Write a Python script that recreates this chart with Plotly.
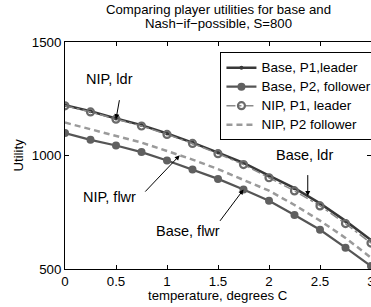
import numpy as np
import plotly.graph_objects as go

# ---- data ----
temps = [0, 0.25, 0.5, 0.75, 1.0, 1.25, 1.5, 1.75, 2.0, 2.25, 2.5, 2.75, 3.0]
base_p1_leader = [1221, 1195, 1163, 1134, 1097, 1057, 1013, 967, 911, 856, 789, 712, 628]
base_p2_follower = [1099, 1069, 1044, 1015, 978, 938, 897, 850, 801, 738, 673, 594, 513]
nip_p1_leader = [1219, 1192, 1160, 1130, 1093, 1053, 1008, 960, 902, 844, 778, 700, 614]
nip_p2_follower = [1145, 1115, 1087, 1057, 1020, 982, 940, 893, 845, 782, 713, 637, 550]

series_names = ["Base, P1,leader", "Base, P2, follower", "NIP, P1, leader", "NIP, P2 follower"]

x_ticks = [0, 0.5, 1, 1.5, 2, 2.5, 3]
x_tick_labels = ["0", "0.5", "1", "1.5", "2", "2.5", "3"]
y_ticks = [500, 1000, 1500]
y_tick_labels = ["500", "1000", "1500"]

title_lines = ["Comparing player utilities for base and", "Nash\u2212if\u2212possible, S=800"]
x_title = "temperature, degrees C"
y_title = "Utility"

FONT = "Liberation Sans, Arial, Helvetica, sans-serif"

def lname(s):
    return '<span style="font-size:13.5px">' + s + '</span>'

fig = go.Figure()
fig.add_trace(go.Scatter(
    x=temps, y=base_p1_leader, name=lname(series_names[0]), mode="lines+markers",
    line=dict(color="#383838", width=2.5),
    marker=dict(symbol="circle", size=4, color="#383838")))
fig.add_trace(go.Scatter(
    x=temps, y=base_p2_follower, name=lname(series_names[1]), mode="lines+markers",
    line=dict(color="#555555", width=2.2),
    marker=dict(symbol="circle", size=8, color="#606060")))
fig.add_trace(go.Scatter(
    x=temps, y=nip_p1_leader, name=lname(series_names[2]), mode="lines+markers",
    line=dict(color="#8a8a8a", width=1.5, dash="dashdot"),
    marker=dict(symbol="circle-open", size=7, color="#6a6a6a", line=dict(width=2.2, color="#6a6a6a"))))
fig.add_trace(go.Scatter(
    x=temps, y=nip_p2_follower, name=lname(series_names[3]), mode="lines",
    line=dict(color="#9a9a9a", width=2.5, dash="6px,4px")))

# ---- annotations (arrow tips computed from the data) ----
def tip(xv, series):
    return xv, float(np.interp(xv, temps, series))

notes = [
    # text, tip x, series, arrow tail offset (px), text offset (px)
    ("NIP, ldr", 0.5, nip_p1_leader, (5, -28), (-7, 40)),
    ("NIP, flwr", 1.125, nip_p2_follower, (-38, 40), (-70, -42)),
    ("Base, flwr", 1.75, base_p2_follower, (-27, 36), (-56, -41)),
    ("Base, ldr", 2.38, base_p1_leader, (0, -30), (-3, 41)),
]
for text, xv, series, (ax, ay), (dx, dy) in notes:
    tx, ty = tip(xv, series)
    fig.add_annotation(x=tx, y=ty, xref="x", yref="y", text=" ", showarrow=True,
                       ax=ax, ay=ay, axref="pixel", ayref="pixel",
                       arrowhead=2, arrowsize=1, arrowwidth=1, arrowcolor="black",
                       standoff=0, startstandoff=0)
    fig.add_annotation(x=tx, y=ty, xref="x", yref="y", text=text, showarrow=False,
                       xshift=dx, yshift=dy, font=dict(family=FONT, size=14.5, color="black"))

# title lines above the plot area
for line, shift in zip(title_lines, (33, 19)):
    fig.add_annotation(x=0.5, y=1.0, xref="paper", yref="paper", yanchor="middle",
                       yshift=shift, showarrow=False, text=line,
                       font=dict(family=FONT, size=13.2, color="black"))
# axis titles
fig.add_annotation(x=0.5, y=0.0, xref="paper", yref="paper", yanchor="middle",
                   yshift=-26, showarrow=False, text=x_title,
                   font=dict(family=FONT, size=13.2, color="black"))
fig.add_annotation(x=-47 / 306, y=0.5, xref="paper", yref="paper", xanchor="center",
                   showarrow=False, text=y_title, textangle=-90,
                   font=dict(family=FONT, size=13.2, color="black"))

fig.update_layout(
    width=371, height=307,
    margin=dict(l=65, r=0, t=42, b=38, autoexpand=False),
    paper_bgcolor="white", plot_bgcolor="white",
    font=dict(family=FONT, size=13, color="black"),
    legend=dict(x=0.508, y=0.955, xanchor="left", yanchor="top",
                bgcolor="white", bordercolor="black", borderwidth=1,
                font=dict(family=FONT, size=10.5), itemwidth=30, tracegroupgap=0),
    showlegend=True,
)
fig.update_xaxes(range=[0, 3.0], tickvals=x_ticks, ticktext=x_tick_labels,
                 ticks="inside", ticklen=4, tickcolor="black", showline=True,
                 linecolor="black", linewidth=1, mirror="ticks", showgrid=False,
                 zeroline=False, ticklabeloverflow="allow", automargin=False,
                 tickfont=dict(size=13.3))
fig.update_yaxes(range=[500, 1500], tickvals=y_ticks, ticktext=y_tick_labels,
                 ticks="inside", ticklen=4, tickcolor="black", showline=True,
                 linecolor="black", linewidth=1, mirror="ticks", showgrid=False,
                 zeroline=False, automargin=False, tickfont=dict(size=13.3))

fig.write_html("out.html", config={"displayModeBar": False},
               post_script="document.body.style.margin='0';document.body.style.overflow='hidden';")
